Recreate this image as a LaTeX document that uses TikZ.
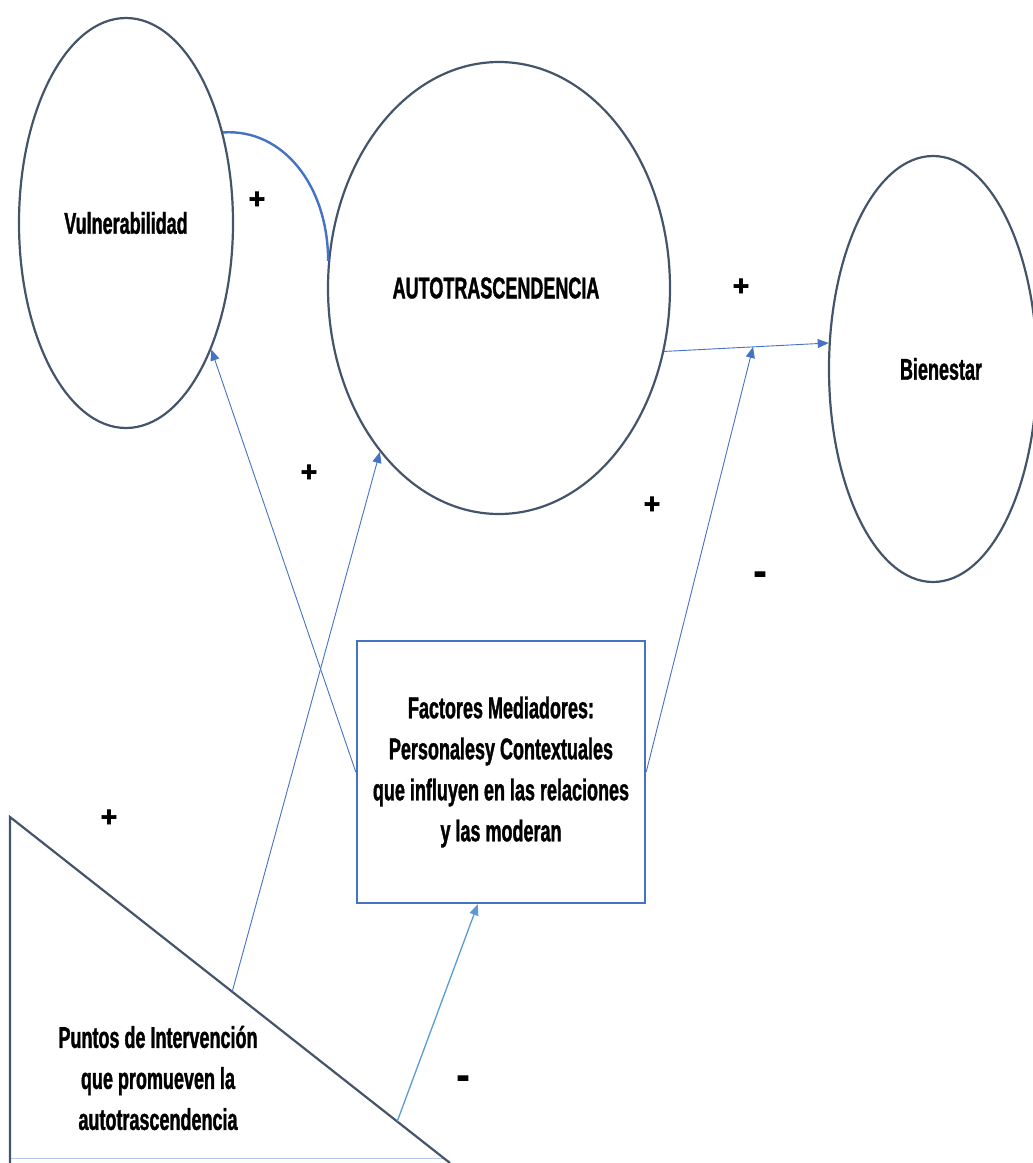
\documentclass[tikz,border=0pt]{standalone}
\usepackage{fontspec}
\setmainfont{Liberation Sans}[FakeStretch=0.6, BoldFeatures={FakeBold=1.2}]
\newfontfamily\signfont{Liberation Sans}[BoldFeatures={FakeBold=2.5}]
\usetikzlibrary{shapes.geometric,arrows.meta,calc}
\definecolor{slate}{HTML}{44546A}
\definecolor{ablue}{HTML}{4472C4}
\definecolor{lblue}{HTML}{5B9BD5}
\definecolor{pale}{HTML}{B4C7E7}
\begin{document}
\begin{tikzpicture}[x=1pt,y=-1pt,
  oval/.style={ellipse, draw=slate, line width=2.2pt, inner sep=0pt, text=black,
    font=\bfseries\fontsize{30}{41}\selectfont},
  boxnode/.style={rectangle, draw=ablue, line width=2.4pt, inner sep=0pt, align=center,
    font=\bfseries\fontsize{30}{41}\selectfont},
  lbl/.style={inner sep=0pt, align=center, font=\bfseries\fontsize{30}{41}\selectfont},
  link/.style={draw=ablue, line width=0.9pt, -{Triangle[length=11pt,width=9pt]}},
  sign/.style={inner sep=0pt, font=\signfont\bfseries\fontsize{28}{30}\selectfont},
  minus/.style={inner sep=0pt, font=\signfont\bfseries\fontsize{38}{40}\selectfont}
]
\path[use as bounding box] (0,0) rectangle (1033,1163);
\clip (0,0) rectangle (1033,1163);

% main shapes
\node[oval, minimum width=214pt, minimum height=410pt] (vul) at (126,223) {Vulnerabilidad};
\node[oval, minimum width=342pt, minimum height=452pt] (auto) at (499,288) {AUTOTRASCENDENCIA\hspace*{6pt}};
\node[oval, minimum width=208pt, minimum height=426pt] (bien) at (933,369) {\hspace*{16pt}Bienestar};
\node[boxnode, minimum width=288pt, minimum height=262pt] (med) at (501,772)
  {Factores Mediadores:\\Personalesy Contextuales\\que influyen en las relaciones\\y las moderan};

% triangle
\coordinate (ta) at (10,817);
\coordinate (tb) at (10,1163);
\coordinate (tc) at (450,1163);
\draw[pale, line width=1pt] (10,1158) -- (443,1158);
\draw[slate, line width=2.2pt] (tb) -- (ta) -- (tc);
\node[lbl] (punt) at (158,1078) {Puntos de Intervención\\que promueven la\\autotrascendencia};

% arc
\draw[ablue, line width=2.4pt] (vul.43.5) .. controls +(60,-4) and +(0,-75) .. (auto.171.6);

% connectors
\coordinate (p1) at (auto.-21);
\coordinate (p2) at (bien.166);
\draw[link] (p1) -- (p2);
\coordinate (pm) at ($(p1)!0.54!(p2)$);
\draw[link] (med.east) -- (pm);
\draw[link] (med.west) -- (vul.-56.6);
\coordinate (h1) at ($(ta)!0.505!(tc)$);
\draw[link] (h1) -- (auto.-126.8);
\coordinate (h2) at ($(ta)!0.88!(tc)$);
\coordinate (mb) at ($(med.south west)!0.42!(med.south east)$);
\draw[link, draw=lblue, line width=1.3pt] (h2) -- (mb);

% signs
\node[sign] (s1) at (257,200) {+};
\node[sign] (s2) at (741,287) {+};
\node[sign] (s3) at (309,473) {+};
\node[sign] (s4) at (652,505) {+};
\node[sign] (s5) at (109,818) {+};
\node[minus] (m1) at (760,578) {-};
\node[minus] (m2) at (463,1082) {-};
\end{tikzpicture}
\end{document}
